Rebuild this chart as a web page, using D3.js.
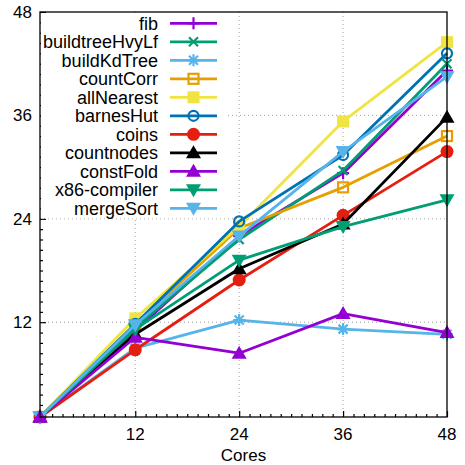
<!DOCTYPE html>
<html>
<head>
<meta charset="utf-8">
<script src="https://cdn.jsdelivr.net/npm/d3@7"></script>
<style>
  body { margin: 0; background: #fff; }
  svg { display: block; font-family: "Liberation Sans", Arial, sans-serif; }
</style>
</head>
<body>
<svg id="chart" width="465" height="465"></svg>
<script>
const cores = [1, 12, 24, 36, 48];
const xTicks = [12, 24, 36, 48];
const yTicks = [12, 24, 36, 48];

const names = ['fib', 'buildtreeHvyLf', 'buildKdTree', 'countCorr', 'allNearest',
  'barnesHut', 'coins', 'countnodes', 'constFold', 'x86-compiler', 'mergeSort'];

const fib = [1, 11.0, 22.0, 29.3, 41.2];
const buildtreeHvyLf = [1, 11.4, 21.6, 29.6, 42.0];
const buildKdTree = [1, 9.0, 12.25, 11.2, 10.6];
const countCorr = [1, 11.8, 22.9, 27.65, 33.6];
const allNearest = [1, 12.45, 23.1, 35.3, 44.5];
const barnesHut = [1, 11.8, 23.7, 31.4, 43.2];
const coins = [1, 8.8, 16.9, 24.4, 31.8];
const countnodes = [1, 10.6, 18.2, 23.4, 35.8];
const constFold = [1, 10.25, 8.4, 13.0, 10.8];
const x86compiler = [1, 11.2, 19.2, 23.1, 26.2];
const mergeSort = [1, 11.7, 22.0, 31.8, 40.5];

const values = [fib, buildtreeHvyLf, buildKdTree, countCorr, allNearest,
  barnesHut, coins, countnodes, constFold, x86compiler, mergeSort];

// gnuplot default line colours, cycling after eight
const colors = ['#9400d3', '#009e73', '#56b4e9', '#e69f00', '#f0e442',
  '#0072b2', '#e51e10', '#000000', '#9400d3', '#009e73', '#56b4e9'];
const markers = ['plus', 'cross', 'star', 'squareOpen', 'square',
  'circleOpen', 'circle', 'triUp', 'triUp', 'triDown', 'triDown'];

const margin = { left: 40, right: 18, top: 12, bottom: 48 };
const width = 465, height = 465;

const svg = d3.select('#chart');
const x = d3.scaleLinear().domain([1, 48]).range([margin.left, width - margin.right]);
const y = d3.scaleLinear().domain([1, 48]).range([height - margin.bottom, margin.top]);

const plotL = x.range()[0], plotR = x.range()[1];
const plotT = y.range()[1], plotB = y.range()[0];

// grid
const grid = svg.append('g')
  .attr('stroke', '#a0a0a0')
  .attr('stroke-width', 1)
  .attr('stroke-dasharray', '1,3');
grid.selectAll('line.gx')
  .data(xTicks.filter((t) => t < 48))
  .join('line')
  .attr('x1', (d) => x(d)).attr('x2', (d) => x(d))
  .attr('y1', plotT).attr('y2', plotB);
grid.selectAll('line.gy')
  .data(yTicks.filter((t) => t < 48))
  .join('line')
  .attr('y1', (d) => y(d)).attr('y2', (d) => y(d))
  .attr('x1', plotL).attr('x2', plotR);

// minor ticks: ten per major interval
function minorList() {
  const out = [];
  for (let m = 0; m < 48; m += 12) {
    for (let k = 1; k < 10; k++) {
      const v = m + k * 1.2;
      if (v > 1) out.push(v);
    }
  }
  return out;
}
const minors = minorList();

// axes, ticks point inward
const xAxis = svg.append('g').attr('transform', `translate(0,${plotB})`);
xAxis.call(d3.axisTop(x).tickValues(xTicks).tickSize(6).tickFormat(''));
xAxis.append('g').call(d3.axisTop(x).tickValues(minors).tickSize(3).tickFormat(''));
xAxis.selectAll('.domain').remove();
xAxis.selectAll('line').attr('stroke', '#000').attr('stroke-width', 1.2);

const yAxis = svg.append('g').attr('transform', `translate(${plotL},0)`);
yAxis.call(d3.axisRight(y).tickValues(yTicks).tickSize(6).tickFormat(''));
yAxis.append('g').call(d3.axisRight(y).tickValues(minors).tickSize(3).tickFormat(''));
yAxis.selectAll('.domain').remove();
yAxis.selectAll('line').attr('stroke', '#000').attr('stroke-width', 1.2);

svg.append('g')
  .selectAll('text')
  .data(xTicks)
  .join('text')
  .attr('x', (d) => x(d))
  .attr('y', plotB + 23)
  .attr('text-anchor', 'middle')
  .attr('font-size', 17)
  .text((d) => d);

svg.append('g')
  .selectAll('text')
  .data(yTicks)
  .join('text')
  .attr('x', plotL - 8)
  .attr('y', (d) => y(d) + 6)
  .attr('text-anchor', 'end')
  .attr('font-size', 17)
  .text((d) => d);

svg.append('text')
  .attr('x', (plotL + plotR) / 2)
  .attr('y', 461)
  .attr('text-anchor', 'middle')
  .attr('font-size', 17)
  .text('Cores');

function drawMarker(g, type, color) {
  const sw = 2.2;
  if (type === 'plus' || type === 'star') {
    g.append('path').attr('d', 'M-6,0H6M0,-6V6').attr('stroke', color).attr('stroke-width', sw);
  }
  if (type === 'cross' || type === 'star') {
    g.append('path').attr('d', 'M-4.5,-4.5L4.5,4.5M-4.5,4.5L4.5,-4.5').attr('stroke', color).attr('stroke-width', sw);
  }
  if (type === 'squareOpen') {
    g.append('rect').attr('x', -5).attr('y', -5).attr('width', 10).attr('height', 10)
      .attr('fill', 'none').attr('stroke', color).attr('stroke-width', sw);
  }
  if (type === 'square') {
    g.append('rect').attr('x', -6).attr('y', -6).attr('width', 12).attr('height', 12).attr('fill', color);
  }
  if (type === 'circleOpen') {
    g.append('circle').attr('r', 5).attr('fill', 'none').attr('stroke', color).attr('stroke-width', sw);
  }
  if (type === 'circle') {
    g.append('circle').attr('r', 6.5).attr('fill', color);
  }
  if (type === 'triUp') {
    g.append('path').attr('d', 'M0,-7.5L7.5,5.5L-7.5,5.5Z').attr('fill', color);
  }
  if (type === 'triDown') {
    g.append('path').attr('d', 'M0,7.5L7.5,-5.5L-7.5,-5.5Z').attr('fill', color);
  }
}

const line = d3.line().x((d) => x(d[0])).y((d) => y(d[1]));

const series = names.map((name, i) => ({
  name,
  color: colors[i],
  marker: markers[i],
  points: cores.map((c, j) => [c, values[i][j]]),
}));

const plot = svg.append('g');
series.forEach((s) => {
  const g = plot.append('g');
  g.append('path')
    .attr('d', line(s.points))
    .attr('fill', 'none')
    .attr('stroke', s.color)
    .attr('stroke-width', 2.8)
    .attr('stroke-linejoin', 'round');
  g.selectAll('g.pt')
    .data(s.points)
    .join('g')
    .attr('transform', (d) => `translate(${x(d[0])},${y(d[1])})`)
    .each(function () { drawMarker(d3.select(this), s.marker, s.color); });
});

// in the reference the constFold marker sits on top at the common start point
const cf = series.find((s) => s.name === 'constFold');
const start = plot.append('g')
  .attr('transform', `translate(${x(cf.points[0][0])},${y(cf.points[0][1])})`);
drawMarker(start, cf.marker, cf.color);

// opaque key
const keyTop = 23.3, keyStep = 18.5;
const key = svg.append('g');
key.append('rect')
  .attr('x', plotL + 1).attr('y', plotT + 1)
  .attr('width', 186).attr('height', keyTop + keyStep * 10 + 9 - plotT)
  .attr('fill', '#fff');
series.forEach((s, i) => {
  const ky = keyTop + i * keyStep;
  key.append('text')
    .attr('x', 158).attr('y', ky + 6.5)
    .attr('text-anchor', 'end')
    .attr('font-size', 18)
    .text(s.name);
  key.append('line')
    .attr('x1', 170).attr('x2', 217).attr('y1', ky).attr('y2', ky)
    .attr('stroke', s.color).attr('stroke-width', 2.8);
  const m = key.append('g').attr('transform', `translate(193.5,${ky})`);
  drawMarker(m, s.marker, s.color);
});

// border
svg.append('rect')
  .attr('x', plotL).attr('y', plotT)
  .attr('width', plotR - plotL).attr('height', plotB - plotT)
  .attr('fill', 'none').attr('stroke', '#000').attr('stroke-width', 1.3);
</script>
</body>
</html>
